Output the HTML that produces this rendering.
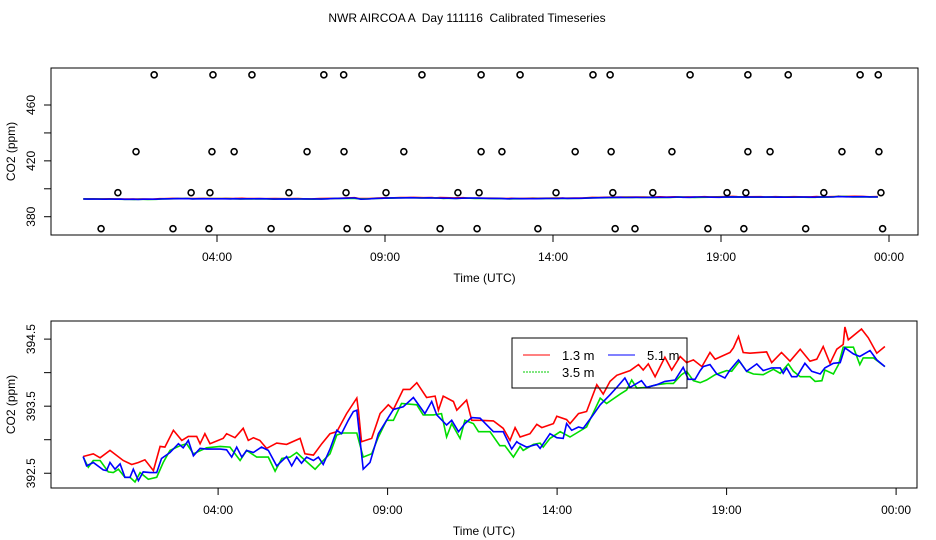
<!DOCTYPE html>
<html><head><meta charset="utf-8"><style>
body{margin:0;background:#fff}
svg{display:block;font-family:"Liberation Sans",sans-serif}
text{white-space:pre}
</style></head><body>
<svg id="chart" width="936" height="540" viewBox="0 0 936 540">
<rect width="936" height="540" fill="#fff"/>
<text x="467" y="22" text-anchor="middle" font-size="12">NWR AIRCOA A  Day 111116  Calibrated Timeseries</text>
<g id="topPanel"></g>
<g id="botPanel"></g>
</svg>
<script>
const xTickHours=[4,9,14,19,24];
const xTickLabels=["04:00","09:00","14:00","19:00","00:00"];
const topYTicks=[380,400,420,440,460];
const topYLabels=[380,420,460];
const botYTicks=[392.5,393,393.5,394,394.5];
const botYLabels=[392.5,393.5,394.5];
const seriesNames=["1.3 m","3.5 m","5.1 m"];
const redH=[0.02,0.32,0.52,0.81,1.20,1.45,1.65,1.84,2.09,2.29,2.43,2.68,2.93,3.12,3.37,3.47,3.61,3.76,4.15,4.25,4.50,4.74,4.89,5.04,5.23,5.43,5.73,6.02,6.42,6.56,6.81,7.06,7.30,7.50,7.79,8.09,8.14,8.23,8.53,8.78,9.02,9.17,9.46,9.66,9.86,10.15,10.40,10.50,10.64,10.94,11.04,11.33,11.48,11.73,12.12,12.41,12.61,12.76,12.91,13.20,13.40,13.55,13.89,13.99,14.28,14.38,14.63,14.87,15.17,15.36,15.56,15.76,16.15,16.40,16.54,16.69,16.89,17.18,17.38,17.63,17.82,18.02,18.27,18.51,18.66,19.10,19.20,19.35,19.49,19.69,20.18,20.33,20.62,20.87,21.17,21.46,21.66,21.85,22.05,22.25,22.44,22.49,22.59,22.98,23.18,23.43,23.67];
const redV=[392.75,392.79,392.73,392.84,392.69,392.63,392.66,392.70,392.54,392.90,392.89,393.14,392.99,393.05,393.05,392.94,393.09,392.94,393.02,393.09,393.03,393.17,392.99,393.03,392.99,392.87,392.95,392.93,393.02,392.79,392.77,392.94,393.09,393.12,393.39,393.62,393.44,392.97,393.02,393.39,393.52,393.45,393.75,393.75,393.85,393.63,393.65,393.44,393.65,393.57,393.44,393.59,393.29,393.29,393.28,393.17,392.99,393.18,393.04,393.09,393.23,393.18,393.24,393.35,393.30,393.24,393.39,393.42,393.82,393.68,393.87,393.96,394.03,394.12,394.04,394.13,393.94,394.23,394.04,394.24,394.15,394.19,394.09,394.30,394.20,394.30,394.37,394.54,394.30,394.29,394.31,394.15,394.30,394.17,394.35,394.17,394.20,394.39,394.14,394.35,394.42,394.68,394.49,394.65,394.52,394.29,394.39];
const greenH=[0.02,0.17,0.32,0.52,0.76,0.91,1.06,1.25,1.40,1.55,1.70,1.94,2.19,2.38,2.58,2.88,3.07,3.27,3.66,4.06,4.35,4.65,4.84,5.14,5.48,5.68,5.88,6.12,6.32,6.46,6.86,7.10,7.30,7.50,7.69,8.09,8.28,8.53,8.73,8.97,9.17,9.41,9.86,10.05,10.35,10.59,10.74,10.89,11.14,11.28,11.53,11.68,12.02,12.31,12.46,12.71,12.91,13.00,13.30,13.50,13.59,13.79,14.09,14.38,14.87,15.27,15.46,15.86,16.05,16.20,16.35,16.64,16.94,17.23,17.43,17.67,17.82,18.02,18.22,18.41,18.66,19.00,19.15,19.38,19.59,19.79,20.08,20.38,20.58,20.82,20.97,21.17,21.46,21.61,21.81,21.90,22.15,22.30,22.44,22.74,22.93,23.03,23.33,23.67];
const greenV=[392.74,392.59,392.69,392.69,392.52,392.51,392.56,392.44,392.44,392.37,392.51,392.41,392.44,392.66,392.84,392.91,392.94,392.79,392.88,392.90,392.89,392.69,392.84,392.74,392.74,392.53,392.72,392.74,392.81,392.74,392.56,392.69,392.79,393.07,393.10,393.10,392.74,392.79,393.04,393.29,393.29,393.54,393.52,393.37,393.37,393.39,393.04,393.24,393.02,393.29,393.24,393.12,393.12,392.91,392.91,392.74,392.90,392.84,392.93,392.95,392.89,393.02,393.12,393.04,393.19,393.62,393.54,393.68,393.74,393.89,393.77,393.78,393.82,393.84,393.84,393.97,394.02,393.88,393.85,393.89,393.97,394.03,394.02,394.17,394.02,393.98,393.97,394.05,393.99,394.13,394.02,393.94,393.94,393.87,393.88,394.04,393.98,394.12,394.38,394.38,394.12,394.22,394.22,394.09];
const blueH=[0.02,0.12,0.32,0.61,0.71,0.81,0.96,1.11,1.25,1.40,1.50,1.65,1.79,1.99,2.19,2.33,2.58,2.83,2.97,3.12,3.27,3.47,3.66,4.06,4.25,4.40,4.55,4.70,4.84,5.04,5.28,5.48,5.73,6.02,6.17,6.32,6.46,6.61,6.81,6.96,7.10,7.30,7.50,7.64,7.84,7.99,8.09,8.28,8.48,8.73,8.97,9.17,9.46,9.76,10.10,10.30,10.45,10.74,10.89,11.09,11.28,11.48,11.73,12.12,12.41,12.66,12.81,12.86,13.10,13.40,13.50,13.79,13.99,14.18,14.28,14.43,14.63,14.77,15.02,15.27,15.56,15.76,16.00,16.15,16.35,16.49,16.64,16.94,17.18,17.48,17.72,17.87,18.07,18.22,18.31,18.51,18.71,18.95,19.10,19.35,19.59,19.89,20.08,20.33,20.58,20.67,20.77,20.92,21.07,21.31,21.51,21.76,21.90,22.15,22.35,22.49,22.74,22.93,23.23,23.43,23.67];
const blueV=[392.75,392.61,392.66,392.55,392.54,392.66,392.56,392.64,392.44,392.44,392.56,392.39,392.52,392.51,392.51,392.72,392.81,392.94,392.88,392.99,392.76,392.87,392.86,392.86,392.85,392.74,392.89,392.74,392.84,392.81,392.89,392.84,392.61,392.75,392.61,392.74,392.65,392.74,392.69,392.74,392.63,392.86,393.14,393.09,393.29,393.42,393.44,392.56,392.66,393.09,393.29,393.45,393.49,393.63,393.39,393.57,393.37,393.22,393.29,393.12,393.24,393.33,393.32,393.12,393.12,392.86,392.97,392.95,392.89,392.93,392.87,393.09,393.03,393.02,393.24,393.14,393.19,393.17,393.34,393.52,393.67,393.78,393.92,393.78,393.84,393.88,393.78,393.82,393.87,393.89,394.08,393.90,393.90,394.03,394.09,394.12,393.98,393.92,394.04,394.19,394.02,394.13,394.03,394.07,394.07,393.99,394.07,393.94,393.94,394.14,394.02,393.98,394.07,394.14,394.15,394.37,394.28,394.24,394.33,394.19,394.09];
const rawH1=[2.13,3.88,5.04,7.18,7.77,10.10,11.86,13.02,15.19,15.70,18.08,19.80,21.00,23.14,23.68];
const rawH2=[1.59,3.85,4.51,6.68,7.78,9.56,11.86,12.48,14.66,15.73,17.54,19.80,20.46,22.60,23.70];
const rawH3=[1.05,3.23,3.79,6.14,7.84,9.03,11.17,11.80,14.09,15.78,16.97,19.18,19.74,22.06,23.76];
const rawH4=[0.55,2.69,3.76,5.61,7.87,8.49,10.64,11.74,13.55,15.85,16.44,18.61,19.68,21.52,23.81];
const rawLevels=[481.6,426.6,397.2,371.4];

const NS="http://www.w3.org/2000/svg";
function mk(parent,tag,attrs,txt){const e=document.createElementNS(NS,tag);for(const k in attrs)e.setAttribute(k,attrs[k]);if(txt!=null)e.textContent=txt;parent.appendChild(e);return e;}

function panel(g,box,x0,xpph,yMin,yMax,yTicks,yLabels,prefix){
  const sx=h=>x0+h*xpph;
  const sy=v=>box.y2-(v-yMin)/(yMax-yMin)*(box.y2-box.y1);
  const frame=mk(g,"rect",{x:box.x1,y:box.y1,width:box.x2-box.x1,height:box.y2-box.y1,fill:"none",stroke:"#000","stroke-width":1});
  
  
  xTickHours.forEach((h,i)=>{
    const x=sx(h);
    const t=mk(g,"line",{x1:x,x2:x,y1:box.y2,y2:box.y2+7,stroke:"#000"});
    
    
    const l=mk(g,"text",{x:x,y:box.y2+26,"text-anchor":"middle","font-size":12},xTickLabels[i]);
    
    
  });
  yTicks.forEach(v=>{
    const y=sy(v);
    const t=mk(g,"line",{x1:box.x1-7,x2:box.x1,y1:y,y2:y,stroke:"#000"});
    
    
  });
  yLabels.forEach(v=>{
    const y=sy(v);
    const l=mk(g,"text",{x:0,y:0,"text-anchor":"middle","font-size":12,transform:`translate(${box.x1-16},${y}) rotate(-90)`},String(v));
    
    
  });
  const xt=mk(g,"text",{x:(box.x1+box.x2)/2,y:box.y2+47,"text-anchor":"middle","font-size":12},"Time (UTC)");
  
  
  const yt=mk(g,"text",{x:0,y:0,"text-anchor":"middle","font-size":12,transform:`translate(15,${(box.y1+box.y2)/2}) rotate(-90)`},"CO2 (ppm)");
  
  
  const clipId=prefix+"clip";
  const cp=mk(g,"clipPath",{id:clipId});
  mk(cp,"rect",{x:box.x1,y:box.y1,width:box.x2-box.x1,height:box.y2-box.y1});
  const series=[[redH,redV,"#ff0000"],[greenH,greenV,"#00dd00"],[blueH,blueV,"#0000ff"]];
  const names=["red-series-1-3m","green-series-3-5m","blue-series-5-1m"];
  series.forEach((s,i)=>{
    const n=Math.min(s[0].length,s[1].length);
    let d="";
    for(let j=0;j<n;j++){d+=(j?"L":"M")+sx(s[0][j]).toFixed(1)+" "+sy(s[1][j]).toFixed(1)+" ";}
    const p=mk(g,"path",{d:d,fill:"none",stroke:s[2],"stroke-width":1.6,"clip-path":`url(#${clipId})`,"stroke-linejoin":"miter"});
    
    
  });
  return {sx,sy};
}

const topG=document.getElementById("topPanel");
const T=panel(topG,{x1:51,x2:918,y1:68,y2:235},82.6,33.6,366.9,486.5,topYTicks,topYLabels,"top");
[rawH1,rawH2,rawH3,rawH4].forEach((arr,k)=>{
  arr.forEach(h=>{
    const c=mk(topG,"circle",{cx:T.sx(h),cy:T.sy(rawLevels[k]),r:3,fill:"none",stroke:"#000","stroke-width":1.6});
    
    
  });
});

const botG=document.getElementById("botPanel");
panel(botG,{x1:51,x2:917,y1:321,y2:488},82.5,33.9,392.28,394.77,botYTicks,botYLabels,"bottom");

const lg=mk(botG,"g",{});


mk(lg,"rect",{x:512,y:338,width:175,height:50,fill:"none",stroke:"#000"});
const entries=[[523,355,"#ff0000",seriesNames[0],""],[608,355,"#0000ff",seriesNames[2],""],[523,372,"#00cc00",seriesNames[1],"2,1"]];
entries.forEach(e=>{
  const ln=mk(lg,"line",{x1:e[0],x2:e[0]+27,y1:e[1],y2:e[1],stroke:e[2],"stroke-width":1,"stroke-dasharray":e[4]||"none"});
  
  
  const tx=mk(lg,"text",{x:e[0]+39,y:e[1]+5,"font-size":13},e[3]);
  
  
});
</script>
</body></html>
